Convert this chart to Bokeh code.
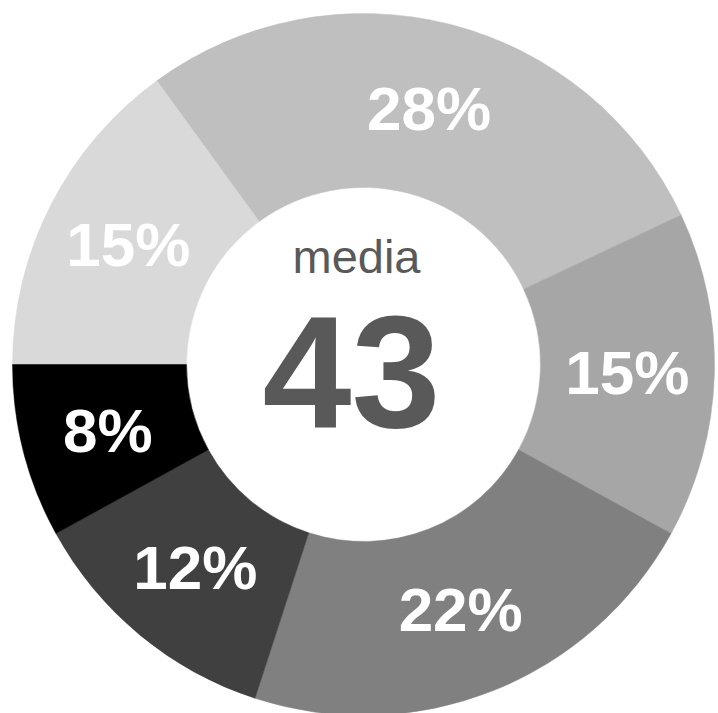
import numpy as np
from bokeh.plotting import figure
from bokeh.models import ColumnDataSource, Range1d
from bokeh.core.properties import value
from bokeh.embed import file_html
from bokeh.resources import INLINE

# data (clockwise from 9 o'clock)
shares = [15, 28, 15, 22, 12, 8]
labels = ["15%", "28%", "15%", "22%", "12%", "8%"]
colors = ["#d9d9d9", "#bfbfbf", "#a6a6a6", "#808080", "#404040", "#000000"]
center_title = "media"
center_value = "43"

W, H = 718, 713
cx, cy = 363, 349
r_out, r_in = 351, 177

frac = np.array(shares, dtype=float) / sum(shares)
cum = np.concatenate([[0], np.cumsum(frac)[:-1]])
end = np.pi - cum * 2 * np.pi
start = end - frac * 2 * np.pi
mid = (start + end) / 2
r_lab = (r_out + r_in) / 2

src = ColumnDataSource(dict(
    start=start, end=end, color=colors, label=labels,
    lx=cx + r_lab * np.cos(mid), ly=cy + r_lab * np.sin(mid),
))

p = figure(width=W, height=H, output_backend="svg", toolbar_location=None,
           x_range=Range1d(0, W), y_range=Range1d(0, H), min_border=0)
p.axis.visible = False
p.grid.visible = False
p.outline_line_color = None
p.background_fill_color = "white"
p.border_fill_color = "white"

p.annular_wedge(x=cx, y=cy, inner_radius=r_in, outer_radius=r_out,
                start_angle="start", end_angle="end", direction="anticlock",
                fill_color="color", line_color="color", line_width=0.5, source=src)

p.text(x="lx", y="ly", text="label", source=src, text_color="white",
       text_font=value("Liberation Sans"), text_font_style="bold",
       text_font_size="62px", text_align="center", text_baseline="middle")

p.text(x=[cx - 7], y=[cy + 108], text=[center_title], text_color="#595959",
       text_font=value("Liberation Sans"), text_font_size="47px",
       text_align="center", text_baseline="middle")
p.text(x=[cx - 12], y=[cy - 7], text=[center_value], text_color="#595959",
       text_font=value("Liberation Sans"), text_font_style="bold",
       text_font_size="160px", text_align="center", text_baseline="alphabetic")

open("out.html", "w").write(file_html(p, INLINE))
